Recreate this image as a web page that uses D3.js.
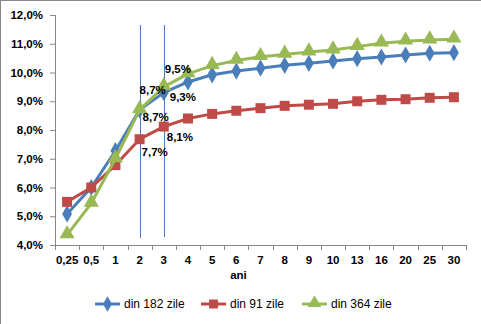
<!DOCTYPE html>
<html>
<head>
<meta charset="utf-8">
<script src="https://cdn.jsdelivr.net/npm/d3@7"></script>
<style>
  body { margin: 0; background: #fff; }
  svg { display: block; font-family: "Liberation Sans", Arial, sans-serif; }
</style>
</head>
<body>
<div id="chart"></div>
<script>
// maturities (years)
var categories = ["0,25", "0,5", "1", "2", "3", "4", "5", "6", "7", "8", "9", "10", "13", "16", "20", "25", "30"];

var din182 = [5.08, 6.0, 7.28, 8.7, 9.3, 9.67, 9.92, 10.05, 10.15, 10.25, 10.32, 10.4, 10.48, 10.54, 10.61, 10.67, 10.69];
var din91  = [5.5, 6.0, 6.78, 7.68, 8.12, 8.4, 8.56, 8.67, 8.76, 8.84, 8.88, 8.91, 9.0, 9.05, 9.07, 9.12, 9.14];
var din364 = [4.35, 5.45, 7.0, 8.7, 9.5, 9.95, 10.24, 10.42, 10.55, 10.63, 10.71, 10.78, 10.9, 11.02, 11.09, 11.13, 11.16];

var yTicks = [4, 5, 6, 7, 8, 9, 10, 11, 12];

var seriesNames = ["din 182 zile", "din 91 zile", "din 364 zile"];
var colors = ["#4a7ebb", "#be4b48", "#98b954"];
var symbols = [d3.symbolDiamond, d3.symbolSquare, d3.symbolTriangle];

// data labels: [series index, category index, text, dx, dy]
var labels = [
  [2, 3, "8,7%", 0, -20],
  [0, 3, "8,7%", 3, 7],
  [1, 3, "7,7%", 2, 13],
  [2, 4, "9,5%", 1, -18],
  [0, 4, "9,3%", 6, 4],
  [1, 4, "8,1%", 3, 10]
];

var W = 481, H = 324,
    margin = {top: 15, right: 15, bottom: 79, left: 55},
    width = 466 - margin.left,
    height = 245 - margin.top;

var svg = d3.select("#chart").append("svg")
    .attr("width", W)
    .attr("height", H);

svg.append("rect")
    .attr("x", 0.5).attr("y", 0.5)
    .attr("width", W + 10).attr("height", H + 10)
    .attr("fill", "#fff")
    .attr("stroke", "#868686");

var g = svg.append("g").attr("transform", "translate(" + margin.left + "," + margin.top + ")");

var x = d3.scaleBand().domain(categories).range([0, width]);
var y = d3.scaleLinear().domain([4, 12]).range([height, 0]);

// y axis
var yAxis = g.append("g")
    .call(d3.axisLeft(y).tickValues(yTicks).tickSize(5).tickFormat(function(d) { return d3.format(".1f")(d).replace(".", ",") + "%"; }));
yAxis.select(".domain").attr("stroke", "#868686").attr("d", "M0.5,0V" + height);
yAxis.selectAll(".tick line").attr("stroke", "#868686");
yAxis.selectAll(".tick text")
    .attr("x", -12)
    .attr("font-size", 11.5).attr("font-weight", "bold").attr("fill", "#000");

// x axis with ticks at band boundaries
var xAxis = g.append("g").attr("transform", "translate(0," + height + ")")
    .call(d3.axisBottom(x).tickSize(0).tickPadding(11));
xAxis.select(".domain").attr("stroke", "#868686").attr("d", "M0,0.5H" + width);
xAxis.selectAll(".tick text").attr("font-size", 11.5).attr("font-weight", "bold").attr("fill", "#000");
xAxis.selectAll(".sep")
    .data(categories.concat([null]))
    .enter().append("line")
      .attr("x1", function(d, i) { return Math.round(i * x.bandwidth()) + 0.5; })
      .attr("x2", function(d, i) { return Math.round(i * x.bandwidth()) + 0.5; })
      .attr("y1", 0).attr("y2", 5)
      .attr("stroke", "#868686");

g.append("text")
    .attr("x", width / 2 - 22)
    .attr("y", height + 34)
    .attr("text-anchor", "middle")
    .attr("font-size", 11.5).attr("font-weight", "bold")
    .text("ani");

// vertical marker lines at 2 and 3 years
[["2", height - 7], ["3", height - 8]].forEach(function(v) {
  var cx = Math.round(x(v[0]) + x.bandwidth() / 2) + 0.5;
  g.append("line")
      .attr("x1", cx).attr("x2", cx)
      .attr("y1", 10).attr("y2", v[1])
      .attr("stroke", "#4a7ebb").attr("stroke-width", 1);
});

var allSeries = [din182, din91, din364];
var line = d3.line()
    .x(function(d, i) { return x(categories[i]) + x.bandwidth() / 2; })
    .y(function(d) { return y(d); });

var symSize = [85, 100, 100];
allSeries.forEach(function(vals, s) {
  g.append("path")
      .datum(vals)
      .attr("d", line)
      .attr("fill", "none")
      .attr("stroke", colors[s])
      .attr("stroke-width", 3)
      .attr("stroke-linejoin", "round");
  g.selectAll(".m" + s)
    .data(vals)
    .enter().append("path")
      .attr("transform", function(d, i) { return "translate(" + (x(categories[i]) + x.bandwidth() / 2) + "," + (y(d) - (s === 2 ? 1 : 0)) + ")"; })
      .attr("d", d3.symbol().type(symbols[s]).size(symSize[s]))
      .attr("fill", colors[s]);
});

// data labels
g.selectAll(".lbl")
  .data(labels)
  .enter().append("text")
    .attr("x", function(d) { return x(categories[d[1]]) + x.bandwidth() / 2 + d[3]; })
    .attr("y", function(d) { return y(allSeries[d[0]][d[1]]) + d[4]; })
    .attr("dy", "0.35em")
    .attr("font-size", 11.5).attr("font-weight", "bold")
    .text(function(d) { return d[2]; });

// legend
var legX = [95, 201, 302];
var legend = svg.append("g")
  .selectAll("g")
  .data(seriesNames)
  .enter().append("g")
    .attr("transform", function(d, i) { return "translate(" + legX[i] + ",304)"; });

legend.append("line")
    .attr("x1", 0).attr("x2", 25)
    .attr("stroke", function(d, i) { return colors[i]; })
    .attr("stroke-width", 3);
legend.append("path")
    .attr("transform", function(d, i) { return "translate(12.5," + (i === 2 ? -1 : 0) + ")"; })
    .attr("d", function(d, i) { return d3.symbol().type(symbols[i]).size(symSize[i] * 0.8)(); })
    .attr("fill", function(d, i) { return colors[i]; });
legend.append("text")
    .attr("x", 29)
    .attr("dy", "0.35em")
    .attr("font-size", 12)
    .text(function(d) { return d; });
</script>
</body>
</html>
